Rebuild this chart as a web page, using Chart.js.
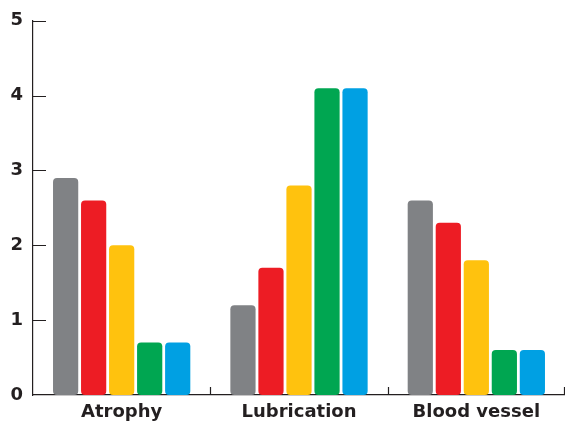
<!DOCTYPE html>
<html>
<head>
<meta charset="utf-8">
<script src="https://cdn.jsdelivr.net/npm/chart.js@4"></script>
<style>
  html, body { margin: 0; padding: 0; background: #ffffff; }
  #wrap { width: 565px; height: 421px; position: relative; }
</style>
</head>
<body>
<div id="wrap"><canvas id="c" width="565" height="421"></canvas></div>
<script>
// Categories and scores per group
const categories = ['Atrophy', 'Lubrication', 'Blood vessel'];
const groupA = [2.9, 1.2, 2.6];
const groupB = [2.6, 1.7, 2.3];
const groupC = [2.0, 2.8, 1.8];
const groupD = [0.7, 4.1, 0.6];
const groupE = [0.7, 4.1, 0.6];
const yTicks = [0, 1, 2, 3, 4, 5];

const colors = ['#808285', '#ED1C24', '#FFC20E', '#00A651', '#00A0E3'];
const ink = '#231f20';

// Inward tick marks on both axes
const axisTicks = {
  id: 'axisTicks',
  afterDraw(chart) {
    const ctx = chart.ctx;
    const y = chart.scales.y, x = chart.scales.x;
    const area = chart.chartArea;
    ctx.save();
    ctx.strokeStyle = ink;
    ctx.lineWidth = 1.2;
    ctx.beginPath();
    yTicks.forEach(v => {
      if (v === 0) return;
      const py = Math.round(y.getPixelForValue(v)) + 0.5;
      ctx.moveTo(area.left, py);
      ctx.lineTo(area.left + 13, py);
    });
    const bounds = [];
    for (let i = 0; i < categories.length - 1; i++) {
      bounds.push((x.getPixelForValue(i) + x.getPixelForValue(i + 1)) / 2);
    }
    bounds.push(area.right - 1);
    bounds.forEach(bx => {
      const px = Math.round(bx) + 0.5;
      ctx.moveTo(px, area.bottom);
      ctx.lineTo(px, area.bottom - 8);
    });
    ctx.stroke();
    ctx.restore();
  }
};

const series = [groupA, groupB, groupC, groupD, groupE];
new Chart(document.getElementById('c'), {
  type: 'bar',
  data: {
    labels: categories,
    datasets: series.map((d, i) => ({
      label: 'Group ' + (i + 1),
      data: d,
      backgroundColor: colors[i],
      borderWidth: 0,
      borderRadius: 4,
      borderSkipped: false,
      categoryPercentage: 0.79,
      barPercentage: 0.9
    }))
  },
  options: {
    responsive: false,
    animation: false,
    layout: { padding: { top: 20, right: 0, left: 0, bottom: 0 } },
    plugins: { legend: { display: false }, tooltip: { enabled: false } },
    scales: {
      x: {
        grid: { display: false, drawTicks: false },
        border: { display: true, color: ink, width: 1.2 },
        ticks: {
          color: ink,
          font: { family: 'DejaVu Sans', weight: 'bold', size: 18 },
          padding: 7
        },
        afterFit(s) { s.height = 26; }
      },
      y: {
        min: 0,
        max: 5,
        afterBuildTicks(s) { s.ticks = yTicks.map(v => ({ value: v })); },
        grid: { display: false, drawTicks: false },
        border: { display: true, color: ink, width: 1.2 },
        ticks: {
          color: ink,
          font: { family: 'DejaVu Sans', weight: 'bold', size: 18 },
          padding: 10
        },
        afterFit(s) { s.width = 33; }
      }
    }
  },
  plugins: [axisTicks]
});
</script>
</body>
</html>
